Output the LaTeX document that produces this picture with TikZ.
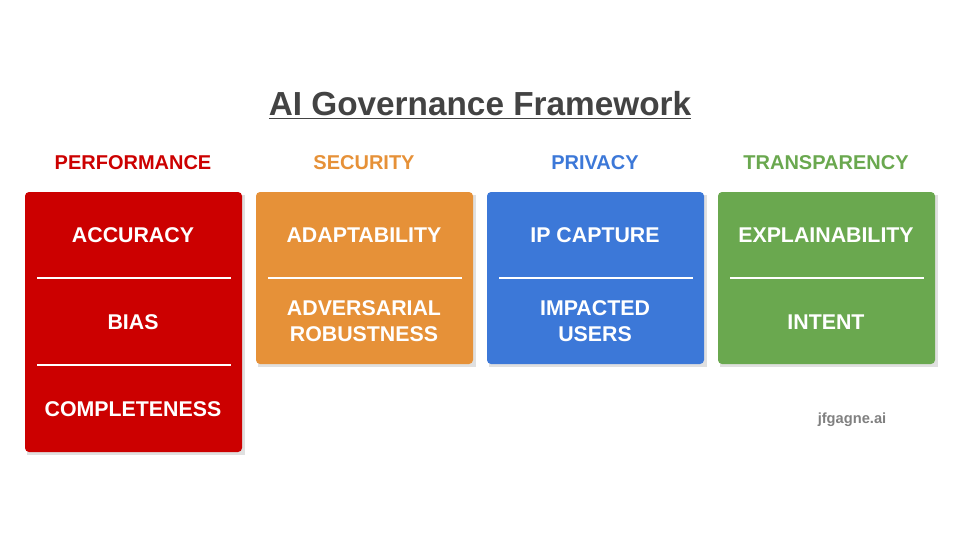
\documentclass[tikz,border=0pt]{standalone}
\usepackage{fontspec}
\setmainfont{Liberation Sans}
\usetikzlibrary{positioning}
\definecolor{perfred}{HTML}{CC0000}
\definecolor{secorange}{HTML}{E69138}
\definecolor{privblue}{HTML}{3C78D8}
\definecolor{transgreen}{HTML}{6AA84F}
\definecolor{titlegray}{HTML}{434343}

\begin{document}
\begin{tikzpicture}[x=0.75pt,y=-0.75pt,
 head/.style={font=\bfseries\fontsize{15}{18}\selectfont},
 item/.style={font=\bfseries\fontsize{16}{20}\selectfont, text=white, align=center},
 card/.style={fill=#1, rounded corners=3pt},
 sep/.style={draw=white, line width=1pt}]
\useasboundingbox (0,0) rectangle (960,540);
% title
\node[font=\bfseries\fontsize{25}{30}\selectfont, text=titlegray] (title) at (480,105)
 {\underline{AI Governance Framework}};
% headers
\node[head, text=perfred] (hperf) at (133,163) {PERFORMANCE};
\node[head, text=secorange] (hsec) at (364,163) {SECURITY};
\node[head, text=privblue] (hpriv) at (595,163) {PRIVACY};
\node[head, text=transgreen] (htrans) at (826,163) {TRANSPARENCY};
% cards
\fill[black!12] (27,195) rectangle (245,455);
\path[card=perfred] (25,192) rectangle (242,452);
\fill[black!12] (258,195) rectangle (476,367);
\path[card=secorange] (256,192) rectangle (473,364);
\fill[black!12] (489,195) rectangle (707,367);
\path[card=privblue] (487,192) rectangle (704,364);
\fill[black!12] (720,195) rectangle (938,367);
\path[card=transgreen] (718,192) rectangle (935,364);
% separators
\draw[sep] (37,278) -- (231,278);
\draw[sep] (37,365) -- (231,365);
\draw[sep] (268,278) -- (462,278);
\draw[sep] (499,278) -- (693,278);
\draw[sep] (730,278) -- (924,278);
% items
\node[item] (acc) at (133,235) {ACCURACY};
\node[item] (bias) at (133,322) {BIAS};
\node[item] (comp) at (133,409) {COMPLETENESS};
\node[item] (adapt) at (364,235) {ADAPTABILITY};
\node[item] (adv) at (364,321) {ADVERSARIAL\\ROBUSTNESS};
\node[item] (ip) at (595,235) {IP CAPTURE};
\node[item] (users) at (595,321) {IMPACTED\\USERS};
\node[item] (expl) at (826,235) {EXPLAINABILITY};
\node[item] (intent) at (826,322) {INTENT};
% watermark
\node[font=\bfseries\fontsize{11}{13}\selectfont, text=black!50] (mark) at (852,420) {jfgagne.ai};
\end{tikzpicture}
\end{document}
